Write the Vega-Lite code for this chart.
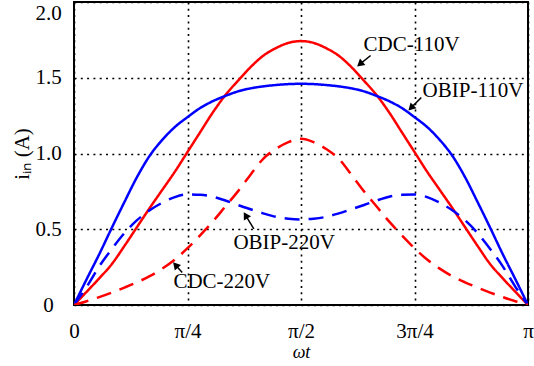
{
  "$schema": "https://vega.github.io/schema/vega-lite/v6.json",
  "width": 454,
  "height": 303,
  "autosize": {"type": "none"},
  "padding": {"left": 74, "top": 2, "right": 6, "bottom": 61},
  "config": {
    "font": "Liberation Serif",
    "view": {"stroke": "black", "strokeWidth": 2},
    "axis": {
      "labelFont": "Liberation Serif",
      "titleFont": "Liberation Serif",
      "labelColor": "black",
      "titleColor": "black",
      "labelFontSize": 21,
      "titleFontSize": 21,
      "titleFontWeight": "normal",
      "domain": false,
      "ticks": false,
      "grid": true,
      "gridColor": "black",
      "gridDash": [2, 4.3],
      "gridWidth": 1.6,
      "gridOpacity": 1
    }
  },
  "datasets": {
    "curves": [
      {"s":"CDC-110V","t":0,"i":0},{"s":"CDC-110V","t":5,"i":0.087},{"s":"CDC-110V","t":10,"i":0.176},{"s":"CDC-110V","t":15,"i":0.27},{"s":"CDC-110V","t":20,"i":0.39},{"s":"CDC-110V","t":25,"i":0.515},{"s":"CDC-110V","t":30,"i":0.64},{"s":"CDC-110V","t":35,"i":0.76},{"s":"CDC-110V","t":40,"i":0.88},{"s":"CDC-110V","t":45,"i":1.01},{"s":"CDC-110V","t":50,"i":1.14},{"s":"CDC-110V","t":55,"i":1.27},{"s":"CDC-110V","t":60,"i":1.385},{"s":"CDC-110V","t":65,"i":1.48},{"s":"CDC-110V","t":70,"i":1.57},{"s":"CDC-110V","t":75,"i":1.645},{"s":"CDC-110V","t":80,"i":1.695},{"s":"CDC-110V","t":85,"i":1.73},{"s":"CDC-110V","t":90,"i":1.742},{"s":"CDC-110V","t":95,"i":1.73},{"s":"CDC-110V","t":100,"i":1.695},{"s":"CDC-110V","t":105,"i":1.645},{"s":"CDC-110V","t":110,"i":1.57},{"s":"CDC-110V","t":115,"i":1.48},{"s":"CDC-110V","t":120,"i":1.385},{"s":"CDC-110V","t":125,"i":1.27},{"s":"CDC-110V","t":130,"i":1.14},{"s":"CDC-110V","t":135,"i":1.01},{"s":"CDC-110V","t":140,"i":0.88},{"s":"CDC-110V","t":145,"i":0.76},{"s":"CDC-110V","t":150,"i":0.64},{"s":"CDC-110V","t":155,"i":0.515},{"s":"CDC-110V","t":160,"i":0.39},{"s":"CDC-110V","t":165,"i":0.27},{"s":"CDC-110V","t":170,"i":0.176},{"s":"CDC-110V","t":175,"i":0.087},{"s":"CDC-110V","t":180,"i":0},
      {"s":"OBIP-110V","t":0,"i":0},{"s":"OBIP-110V","t":5,"i":0.17},{"s":"OBIP-110V","t":10,"i":0.335},{"s":"OBIP-110V","t":15,"i":0.51},{"s":"OBIP-110V","t":20,"i":0.68},{"s":"OBIP-110V","t":25,"i":0.845},{"s":"OBIP-110V","t":30,"i":0.985},{"s":"OBIP-110V","t":35,"i":1.09},{"s":"OBIP-110V","t":40,"i":1.175},{"s":"OBIP-110V","t":45,"i":1.24},{"s":"OBIP-110V","t":50,"i":1.3},{"s":"OBIP-110V","t":55,"i":1.345},{"s":"OBIP-110V","t":60,"i":1.38},{"s":"OBIP-110V","t":65,"i":1.41},{"s":"OBIP-110V","t":70,"i":1.43},{"s":"OBIP-110V","t":75,"i":1.443},{"s":"OBIP-110V","t":80,"i":1.452},{"s":"OBIP-110V","t":85,"i":1.458},{"s":"OBIP-110V","t":90,"i":1.46},{"s":"OBIP-110V","t":95,"i":1.458},{"s":"OBIP-110V","t":100,"i":1.452},{"s":"OBIP-110V","t":105,"i":1.443},{"s":"OBIP-110V","t":110,"i":1.43},{"s":"OBIP-110V","t":115,"i":1.41},{"s":"OBIP-110V","t":120,"i":1.38},{"s":"OBIP-110V","t":125,"i":1.345},{"s":"OBIP-110V","t":130,"i":1.3},{"s":"OBIP-110V","t":135,"i":1.24},{"s":"OBIP-110V","t":140,"i":1.175},{"s":"OBIP-110V","t":145,"i":1.09},{"s":"OBIP-110V","t":150,"i":0.985},{"s":"OBIP-110V","t":155,"i":0.845},{"s":"OBIP-110V","t":160,"i":0.68},{"s":"OBIP-110V","t":165,"i":0.51},{"s":"OBIP-110V","t":170,"i":0.335},{"s":"OBIP-110V","t":175,"i":0.17},{"s":"OBIP-110V","t":180,"i":0},
      {"s":"OBIP-220V","t":0,"i":0},{"s":"OBIP-220V","t":5,"i":0.12},{"s":"OBIP-220V","t":10,"i":0.255},{"s":"OBIP-220V","t":15,"i":0.37},{"s":"OBIP-220V","t":20,"i":0.475},{"s":"OBIP-220V","t":25,"i":0.56},{"s":"OBIP-220V","t":30,"i":0.625},{"s":"OBIP-220V","t":35,"i":0.675},{"s":"OBIP-220V","t":40,"i":0.712},{"s":"OBIP-220V","t":45,"i":0.73},{"s":"OBIP-220V","t":50,"i":0.727},{"s":"OBIP-220V","t":55,"i":0.715},{"s":"OBIP-220V","t":60,"i":0.69},{"s":"OBIP-220V","t":65,"i":0.66},{"s":"OBIP-220V","t":70,"i":0.632},{"s":"OBIP-220V","t":75,"i":0.605},{"s":"OBIP-220V","t":80,"i":0.582},{"s":"OBIP-220V","t":85,"i":0.57},{"s":"OBIP-220V","t":90,"i":0.565},{"s":"OBIP-220V","t":95,"i":0.57},{"s":"OBIP-220V","t":100,"i":0.582},{"s":"OBIP-220V","t":105,"i":0.605},{"s":"OBIP-220V","t":110,"i":0.632},{"s":"OBIP-220V","t":115,"i":0.66},{"s":"OBIP-220V","t":120,"i":0.69},{"s":"OBIP-220V","t":125,"i":0.715},{"s":"OBIP-220V","t":130,"i":0.727},{"s":"OBIP-220V","t":135,"i":0.73},{"s":"OBIP-220V","t":140,"i":0.712},{"s":"OBIP-220V","t":145,"i":0.675},{"s":"OBIP-220V","t":150,"i":0.625},{"s":"OBIP-220V","t":155,"i":0.56},{"s":"OBIP-220V","t":160,"i":0.475},{"s":"OBIP-220V","t":165,"i":0.37},{"s":"OBIP-220V","t":170,"i":0.255},{"s":"OBIP-220V","t":175,"i":0.12},{"s":"OBIP-220V","t":180,"i":0},
      {"s":"CDC-220V","t":0,"i":0},{"s":"CDC-220V","t":5,"i":0.025},{"s":"CDC-220V","t":10,"i":0.052},{"s":"CDC-220V","t":15,"i":0.082},{"s":"CDC-220V","t":20,"i":0.115},{"s":"CDC-220V","t":25,"i":0.15},{"s":"CDC-220V","t":30,"i":0.19},{"s":"CDC-220V","t":35,"i":0.24},{"s":"CDC-220V","t":40,"i":0.3},{"s":"CDC-220V","t":45,"i":0.375},{"s":"CDC-220V","t":50,"i":0.46},{"s":"CDC-220V","t":55,"i":0.55},{"s":"CDC-220V","t":60,"i":0.65},{"s":"CDC-220V","t":65,"i":0.75},{"s":"CDC-220V","t":70,"i":0.86},{"s":"CDC-220V","t":75,"i":0.965},{"s":"CDC-220V","t":80,"i":1.03},{"s":"CDC-220V","t":85,"i":1.075},{"s":"CDC-220V","t":90,"i":1.097},{"s":"CDC-220V","t":95,"i":1.075},{"s":"CDC-220V","t":100,"i":1.03},{"s":"CDC-220V","t":105,"i":0.965},{"s":"CDC-220V","t":110,"i":0.86},{"s":"CDC-220V","t":115,"i":0.75},{"s":"CDC-220V","t":120,"i":0.65},{"s":"CDC-220V","t":125,"i":0.55},{"s":"CDC-220V","t":130,"i":0.46},{"s":"CDC-220V","t":135,"i":0.375},{"s":"CDC-220V","t":140,"i":0.3},{"s":"CDC-220V","t":145,"i":0.24},{"s":"CDC-220V","t":150,"i":0.19},{"s":"CDC-220V","t":155,"i":0.15},{"s":"CDC-220V","t":160,"i":0.115},{"s":"CDC-220V","t":165,"i":0.082},{"s":"CDC-220V","t":170,"i":0.052},{"s":"CDC-220V","t":175,"i":0.025},{"s":"CDC-220V","t":180,"i":0}
    ],
    "labels": [
      {"label": "CDC-110V", "x": 114.8, "y": 1.714},
      {"label": "OBIP-110V", "x": 138.2, "y": 1.41},
      {"label": "OBIP-220V", "x": 63.2, "y": 0.412},
      {"label": "CDC-220V", "x": 39.4, "y": 0.151}
    ],
    "arrows": [
      {"x": 117.6, "y": 1.647, "x2": 113.35, "y2": 1.59, "dir": 230},
      {"x": 137.7, "y": 1.37, "x2": 133.6, "y2": 1.301, "dir": 225},
      {"x": 71.3, "y": 0.502, "x2": 68.04, "y2": 0.592, "dir": 329},
      {"x": 42.9, "y": 0.215, "x2": 40.24, "y2": 0.264, "dir": 318}
    ]
  },
  "layer": [
    {
      "data": {"name": "curves"},
      "mark": {"type": "line", "strokeWidth": 2.5, "interpolate": "monotone", "clip": true},
      "encoding": {
        "x": {
          "field": "t", "type": "quantitative",
          "scale": {"domain": [0, 180], "nice": false, "zero": false},
          "axis": {
            "values": [0, 45, 90, 135, 180],
            "labelExpr": "datum.value == 0 ? '0' : datum.value == 45 ? 'π/4' : datum.value == 90 ? 'π/2' : datum.value == 135 ? '3π/4' : 'π'",
            "labelPadding": 15,
            "labelFlush": false,
            "labelOverlap": false,
            "title": "ωt",
            "titleFontStyle": "italic",
            "titleFontSize": 18,
            "titlePadding": 2
          }
        },
        "y": {
          "field": "i", "type": "quantitative",
          "scale": {"domain": [0, 2], "nice": false},
          "axis": {
            "values": [0, 0.5, 1, 1.5, 2],
            "labelExpr": "datum.value == 0 ? '0' : format(datum.value, '.1f')",
            "labelAlign": "center",
            "labelPadding": 26,
            "labelFlush": false,
            "labelOverlap": false,
            "labelBaseline": {"condition": {"test": "datum.value == 2", "value": "top"}, "value": "middle"},
            "title": "iᵢₙ (A)",
            "titlePadding": 2
          }
        },
        "color": {
          "field": "s", "type": "nominal",
          "scale": {"domain": ["CDC-110V", "OBIP-110V", "OBIP-220V", "CDC-220V"], "range": ["#ff0000", "#0000ff", "#0000ff", "#ff0000"]},
          "legend": null
        },
        "strokeDash": {
          "field": "s", "type": "nominal",
          "scale": {"domain": ["CDC-110V", "OBIP-110V", "OBIP-220V", "CDC-220V"], "range": [[1, 0], [1, 0], [15, 9], [15, 9]]},
          "legend": null
        }
      }
    },
    {
      "data": {"name": "arrows"},
      "mark": {"type": "rule", "color": "black", "strokeWidth": 1.5},
      "encoding": {
        "x": {"field": "x", "type": "quantitative"},
        "y": {"field": "y", "type": "quantitative"},
        "x2": {"field": "x2"},
        "y2": {"field": "y2"}
      }
    },
    {
      "data": {"name": "arrows"},
      "mark": {"type": "point", "shape": "triangle-up", "filled": true, "color": "black", "opacity": 1, "size": 70},
      "encoding": {
        "x": {"field": "x2", "type": "quantitative"},
        "y": {"field": "y2", "type": "quantitative"},
        "angle": {"field": "dir", "type": "quantitative", "scale": null}
      }
    },
    {
      "data": {"name": "labels"},
      "mark": {"type": "text", "align": "left", "baseline": "middle", "fontSize": 21, "font": "Liberation Serif", "color": "black"},
      "encoding": {
        "x": {"field": "x", "type": "quantitative"},
        "y": {"field": "y", "type": "quantitative"},
        "text": {"field": "label"}
      }
    }
  ]
}
